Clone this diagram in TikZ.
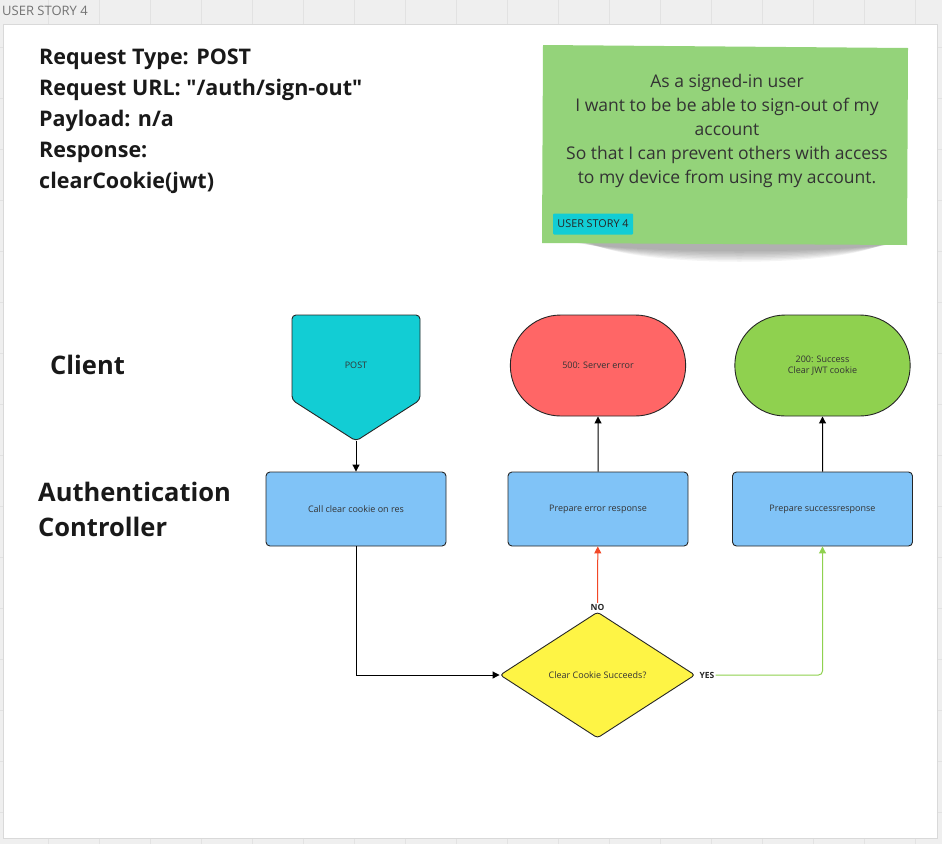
\documentclass[tikz,border=0pt]{standalone}
\usepackage{fontspec}
\setmainfont{Open Sans}
\newfontfamily\straightfont{Open Sans}
\usepackage{xcolor}
\usepackage{tikz}
\usetikzlibrary{arrows.meta,positioning,shapes.geometric,shapes.misc}

\definecolor{boardgray}{HTML}{EFEFEF}
\definecolor{gridgray}{HTML}{E2E2E2}
\definecolor{stickygreen}{HTML}{94D37A}
\definecolor{tagcyan}{HTML}{12CDD4}
\definecolor{stepblue}{HTML}{80C3F7}
\definecolor{errred}{HTML}{FF6666}
\definecolor{okgreen}{HTML}{8FD14F}
\definecolor{askyellow}{HTML}{FEF445}
\definecolor{nored}{HTML}{F24726}
\definecolor{inktext}{HTML}{333333}

\newcommand{\dquote}{{\straightfont\bfseries "}}

\begin{document}
\begin{tikzpicture}[
  x=1pt, y=-1pt,
  font=\fontsize{9}{11}\selectfont,
  stepbox/.style={draw=black!85, line width=0.9pt, rounded corners=4pt, fill=stepblue, minimum width=180pt, minimum height=74pt, text=inktext},
  term/.style={rounded rectangle, draw=black!85, line width=0.9pt, minimum width=182pt, minimum height=101pt, align=center, text=inktext},
  decision/.style={diamond, aspect=1.55, draw=black!85, line width=0.9pt, fill=askyellow, minimum width=195pt, minimum height=126pt, rounded corners=3pt, text=inktext},
  arr/.style={-{Triangle[length=7pt,width=7pt]}, line width=1pt},
  lane/.style={font=\fontsize{25.5}{35}\selectfont\bfseries, align=left, anchor=west, inner sep=0pt, text=black!90},
  tag/.style={font=\fontsize{8.5}{10}\selectfont\bfseries, inner sep=1pt, text=black!85}
]
\useasboundingbox (0,0) rectangle (942,844);
% board and frame
\fill[boardgray] (0,0) rectangle (942,844);
\foreach \gx in {48,99,...,942} \draw[gridgray, line width=0.6pt] (\gx,0) -- (\gx,844);
\foreach \gy in {47,98,...,844} \draw[gridgray, line width=0.6pt] (0,\gy) -- (942,\gy);
\node[anchor=west, inner sep=0pt, text=black!55, font=\fontsize{13}{15}\selectfont] (boardlbl) at (2,11) {USER STORY 4};
\draw[black!15, fill=white] (3,24) rectangle (937,838);

% request notes
\node[anchor=west, inner sep=0pt, align=left, text=black!90, font=\fontsize{21.5}{31}\selectfont\bfseries] (request) at (39,121)
  {Request Type: POST\\Request URL: \dquote/auth/sign-out\dquote\\Payload: n/a\\Response:\\clearCookie(jwt)};

% sticky note
\foreach \d in {1,...,8}
  \fill[black, opacity=0.045] (575+2*\d,243) .. controls (640,252+2*\d) and (840,252+2*\d) .. (900-2*\d,243) -- cycle;
\fill[stickygreen] (543,45) -- (908,48) -- (907,245) -- (542,243) -- cycle;
\node[align=center, text=inktext, font=\fontsize{17.5}{24}\selectfont] (story) at (727,131)
  {As a signed-in user\\I want to be be able to sign-out of my\\account\\So that I can prevent others with access\\to my device from using my account.};
\node[fill=tagcyan, rounded corners=1pt, minimum width=80pt, minimum height=21pt, inner sep=0pt, text=black!85, font=\fontsize{10.8}{12}\selectfont] (storytag) at (593,224) {USER STORY 4};

% lanes
\node[lane] (client) at (50,365) {Client};
\node[lane] (authctl) at (38,509) {Authentication\\Controller};

% client row
\fill[tagcyan, draw=black!85, line width=0.9pt, rounded corners=4pt] (292,315) -- (420,315) -- (420,400) -- (356,441) -- (292,400) -- cycle;
\node[text=inktext] (post) at (356,365) {POST};
\coordinate (posttip) at (356,441);
\node[term, fill=errred] (errend) at (598,365.5) {500: Server error};
\node[term, fill=okgreen] (okend) at (822.5,365.5) {200: Success\\Clear JWT cookie};

% controller row
\node[stepbox] (callbox) at (356,509) {Call clear cookie on res};
\node[stepbox] (errbox) at (598,509) {Prepare error response};
\node[stepbox] (okbox) at (822.5,509) {Prepare successresponse};
\node[decision] (check) at (597.5,675) {Clear Cookie Succeeds?};
\node[tag, above=0pt of check.north] (nolbl) {NO};
\node[tag, right=3pt of check.east] (yeslbl) {YES};

% flow
\draw[arr] (posttip) -- (callbox);
\draw[arr] (callbox) |- (check);
\draw[arr, nored] (nolbl) -- (errbox);
\draw[arr, okgreen, rounded corners=4pt] (yeslbl) -| (okbox);
\draw[arr] (errbox) -- (errend);
\draw[arr] (okbox) -- (okend);
\end{tikzpicture}
\end{document}
